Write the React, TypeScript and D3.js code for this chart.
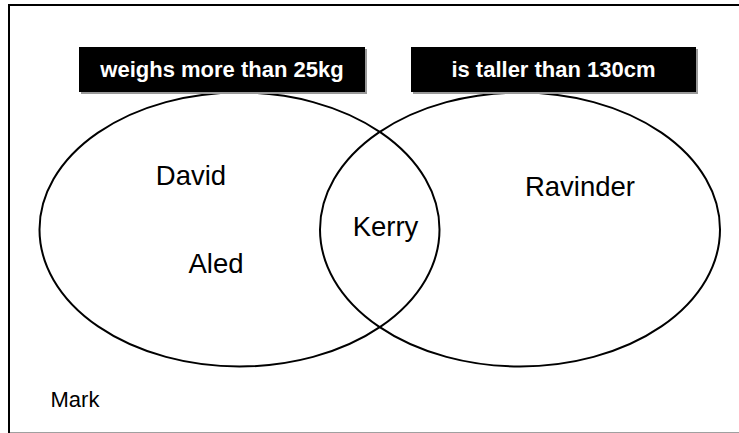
import React, { useEffect, useRef } from "react";
import * as d3 from "d3";

// sets of the venn diagram
const setLabels = ["weighs more than 25kg", "is taller than 130cm"];

// children and which sets they belong to
const names = ["David", "Aled", "Kerry", "Ravinder", "Mark"];
const memberships = [["A"], ["A"], ["A", "B"], ["B"], []];

// layout (pixel positions, not data)
const namePos = {
  David: [191, 185],
  Aled: [216, 273],
  Kerry: [385.5, 236],
  Ravinder: [580, 196],
  Mark: [75, 407],
};

const App = () => {
  const chartRef = useRef(null);

  useEffect(() => {
    const width = 739;
    const height = 433;

    const svg = d3.select(chartRef.current)
      .append("svg")
      .attr("width", width)
      .attr("height", height)
      .style("position", "absolute")
      .style("left", 0)
      .style("top", 0)
      .style("font-family", "Arial, 'Liberation Sans', sans-serif")
      .style("background", "#fff");

    // frame
    svg.append("line").attr("x1", 9).attr("x2", 9).attr("y1", 4).attr("y2", 433)
      .attr("stroke", "#000").attr("stroke-width", 2);
    svg.append("line").attr("x1", 8).attr("x2", width).attr("y1", 5).attr("y2", 5)
      .attr("stroke", "#000").attr("stroke-width", 2);
    svg.append("line").attr("x1", 10).attr("x2", width).attr("y1", 432.5).attr("y2", 432.5)
      .attr("stroke", "#a0a0a0").attr("stroke-width", 1);

    const circles = [
      { key: "A", cx: 239.5, cy: 229.5, rx: 200, ry: 137 },
      { key: "B", cx: 520, cy: 229.5, rx: 200, ry: 137 },
    ];

    svg.append("g")
      .selectAll("ellipse")
      .data(circles)
      .join("ellipse")
      .attr("cx", d => d.cx)
      .attr("cy", d => d.cy)
      .attr("rx", d => d.rx)
      .attr("ry", d => d.ry)
      .attr("fill", "none")
      .attr("stroke", "#000")
      .attr("stroke-width", 2);

    // label boxes
    const boxes = [
      { x: 79, y: 47, w: 286, h: 45 },
      { x: 411, y: 47, w: 285, h: 45 },
    ];

    const box = svg.append("g")
      .selectAll("g")
      .data(setLabels)
      .join("g")
      .attr("transform", (d, i) => `translate(${boxes[i].x},${boxes[i].y})`);

    box.append("rect")
      .attr("x", 2).attr("y", 2)
      .attr("width", (d, i) => boxes[i].w)
      .attr("height", (d, i) => boxes[i].h)
      .attr("fill", "#999");

    box.append("rect")
      .attr("width", (d, i) => boxes[i].w)
      .attr("height", (d, i) => boxes[i].h)
      .attr("fill", "#000");

    box.append("text")
      .attr("x", (d, i) => boxes[i].w / 2)
      .attr("y", 29.5)
      .attr("text-anchor", "middle")
      .attr("fill", "#fff")
      .attr("font-weight", "bold")
      .attr("font-size", 22)
      .text(d => d);

    // names
    svg.append("g")
      .selectAll("text")
      .data(names)
      .join("text")
      .attr("x", d => namePos[d][0])
      .attr("y", d => namePos[d][1])
      .attr("text-anchor", "middle")
      .attr("font-size", (d, i) => (memberships[i].length ? 27.5 : 22))
      .attr("fill", "#000")
      .text(d => d);

    return () => {
      d3.select(chartRef.current).select("svg").remove();
    };
  }, []);

  return <div ref={chartRef}></div>;
};

export default App;
